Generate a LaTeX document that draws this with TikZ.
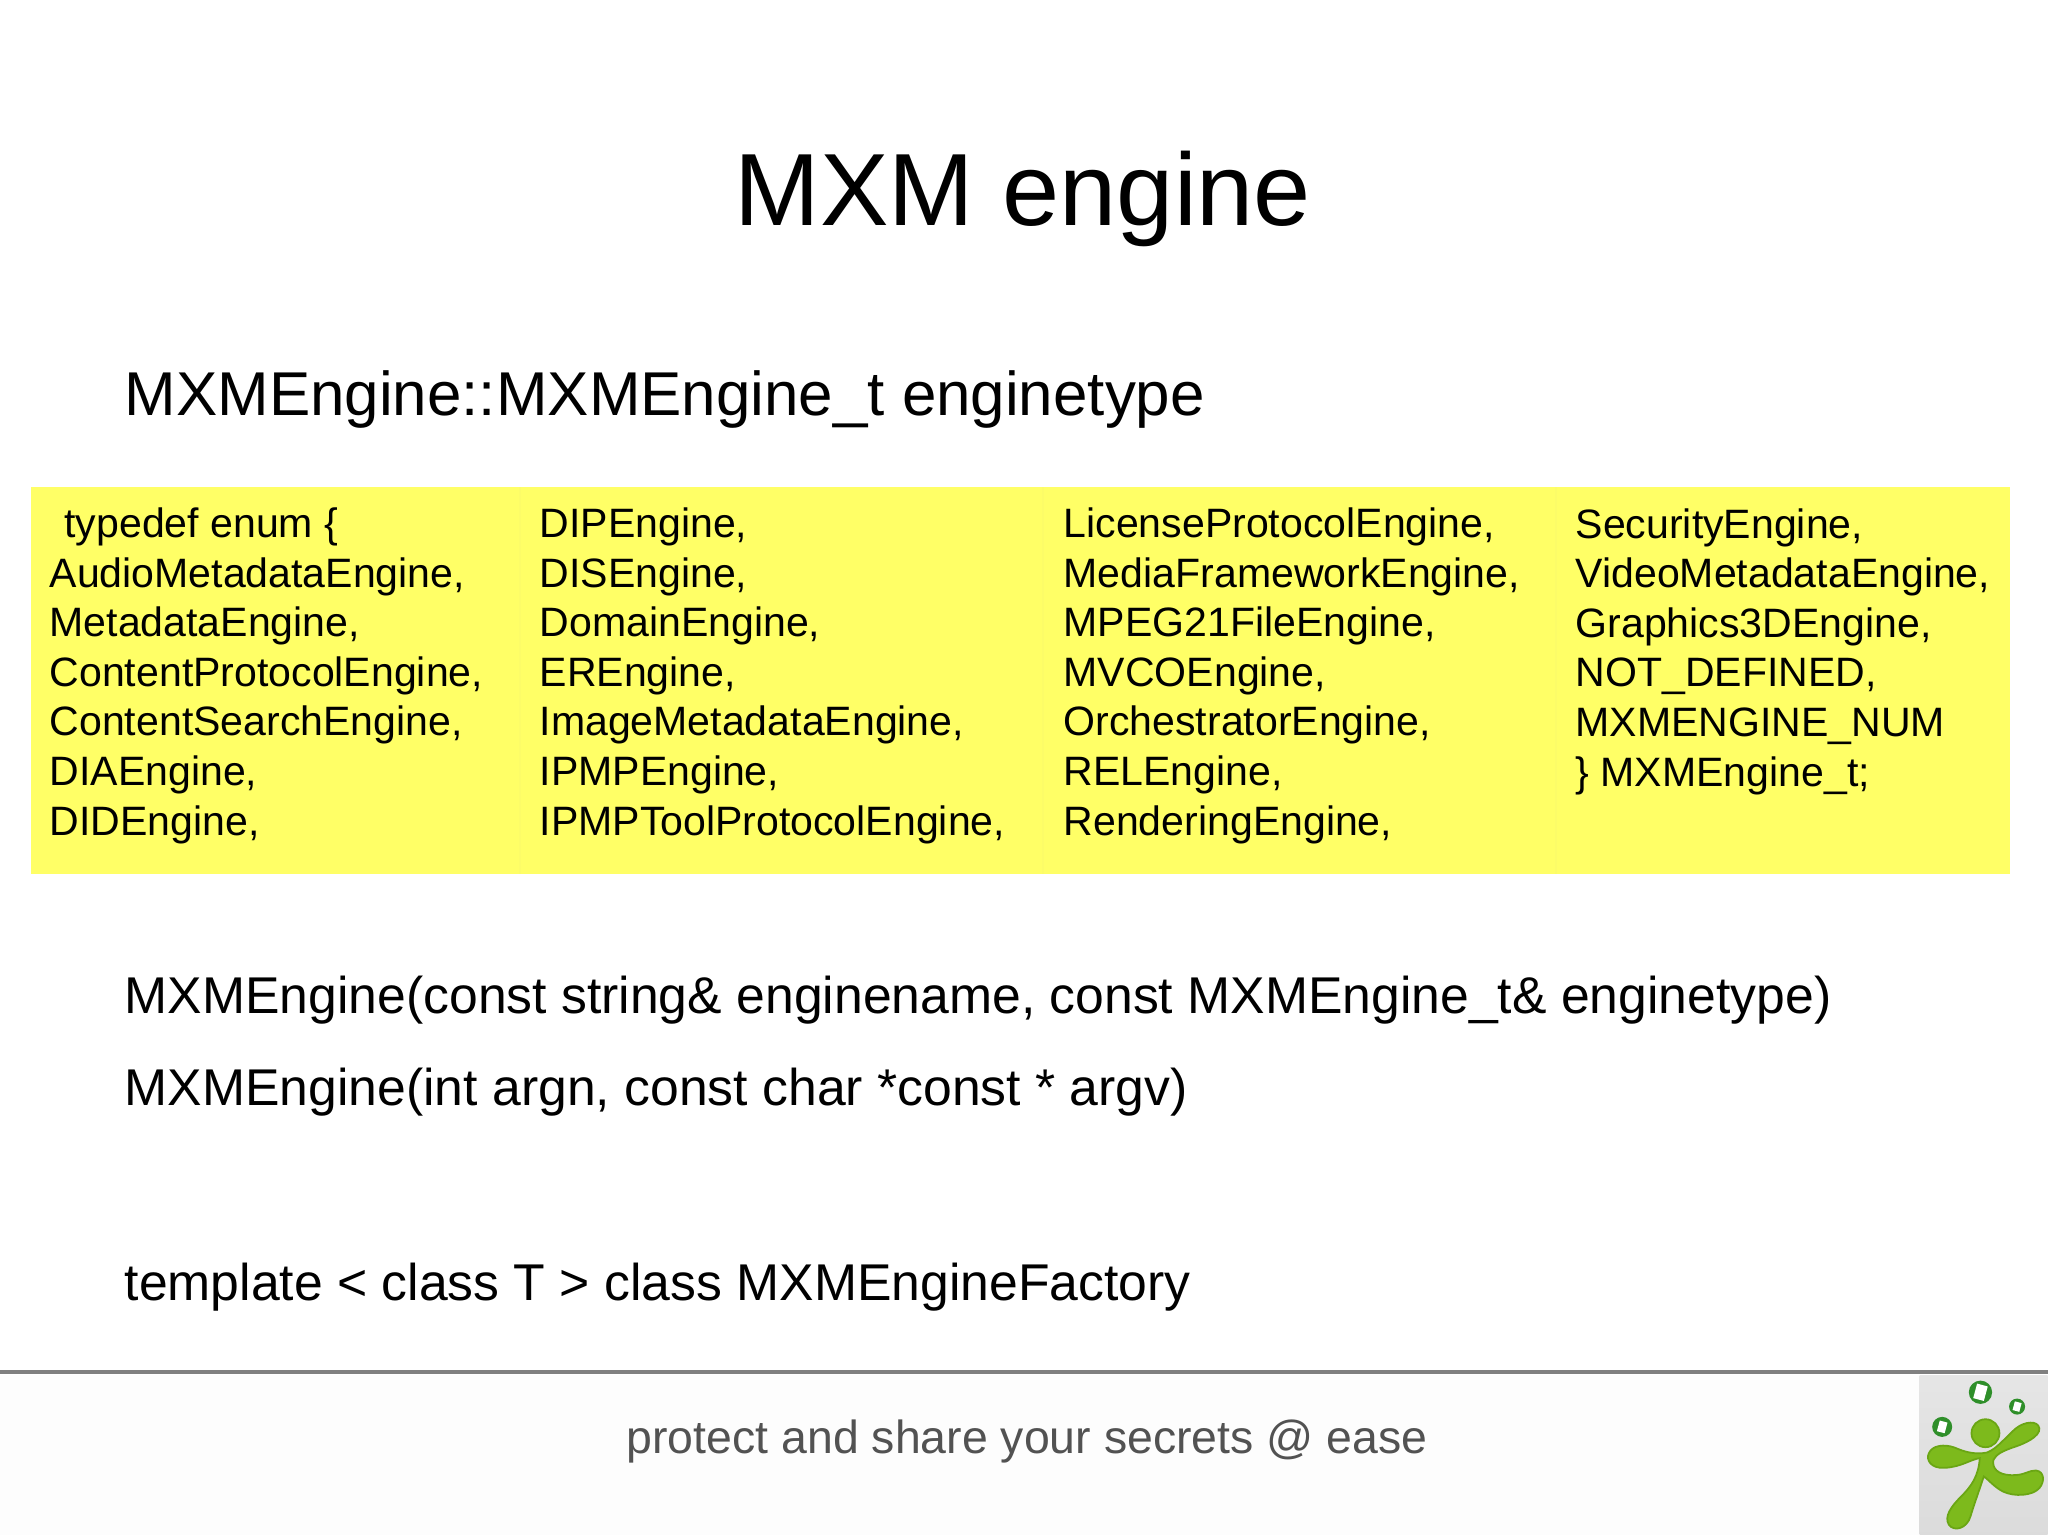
\documentclass[tikz,border=0pt]{standalone}
\usepackage{fontspec}
\setmainfont{Liberation Sans}
\definecolor{slideyellow}{HTML}{FFFF66}
\definecolor{slideseam}{HTML}{FCFC68}
\definecolor{sliderule}{HTML}{808080}
\definecolor{footgrey}{HTML}{525252}
\definecolor{logogreen}{HTML}{7DBA1C}
\definecolor{logoedge}{HTML}{6AA614}
\definecolor{logodark}{HTML}{2F8F2A}
\tikzset{
  titletext/.style={inner sep=0pt,anchor=base,font=\fontsize{29.2}{35}\selectfont},
  headtext/.style={inner sep=0pt,anchor=base west,font=\fontsize{17.6}{21}\selectfont},
  bodytext/.style={inner sep=0pt,anchor=base west,font=\fontsize{14.7}{18}\selectfont},
  cellblock/.style={inner sep=0pt,anchor=base west,align=left,font=\fontsize{11.67}{14.08}\selectfont},
  foottext/.style={inner sep=0pt,anchor=base,text=footgrey,font=\fontsize{13.2}{16}\selectfont},
  logoball/.style={circle,fill=logodark,inner sep=0pt},
  logodoc/.style={rectangle,fill=white,inner sep=0pt,rotate=-15}
}
\begin{document}
\begin{tikzpicture}[x=0.01cm,y=-0.01cm]
      \useasboundingbox (0,0) rectangle (2048,1535);
      \fill[white] (0,0) rectangle (2048,1535);
      \fill[black!0.7] (0,1375) rectangle (1920,1535);
      % enum table
      \fill[slideyellow] (31,487) rectangle (2010,874);
      \draw[slideseam] (520,487) -- (520,874);
      \draw[slideseam] (1043,487) -- (1043,874);
      \draw[slideseam] (1556,487) -- (1556,874);
      \node[titletext] (title) at (1023,225) {MXM engine};
      \node[headtext] (enginetype) at (124,415) {MXMEngine::MXMEngine\_t enginetype};
      \node[cellblock] (col1) at (49,835) {\hspace{4.2pt}typedef enum \{\\AudioMetadataEngine,\\MetadataEngine,\\ContentProtocolEngine,\\ContentSearchEngine,\\DIAEngine,\\DIDEngine,};
      \node[cellblock] (col2) at (539,835) {DIPEngine,\\DISEngine,\\DomainEngine,\\EREngine,\\ImageMetadataEngine,\\IPMPEngine,\\IPMPToolProtocolEngine,};
      \node[cellblock] (col3) at (1063,835) {LicenseProtocolEngine,\\MediaFrameworkEngine,\\MPEG21FileEngine,\\MVCOEngine,\\OrchestratorEngine,\\RELEngine,\\RenderingEngine,};
      \node[cellblock] (col4) at (1575,786) {SecurityEngine,\\VideoMetadataEngine,\\Graphics3DEngine,\\NOT\_DEFINED,\\MXMENGINE\_NUM\\\} MXMEngine\_t;};
      \node[bodytext] (ctorname) at (124,1013) {MXMEngine(const string\& enginename, const MXMEngine\_t\& enginetype)};
      \node[bodytext] (ctorargs) at (124,1105) {MXMEngine(int argn, const char *const * argv)};
      \node[bodytext] (factory) at (124,1300) {template < class T > class MXMEngineFactory};
      \draw[sliderule,line width=1.2pt] (0,1372) -- (2048,1372);
      \node[foottext] (slogan) at (1027,1453) {protect and share your secrets @ ease};
      % logo
      \begin{scope}[shift={(1848,1340)},x=0.00333cm,y=-0.00333cm]
        \shade[top color=black!10,bottom color=black!14] (215,108) rectangle (600,585);
        \fill[logogreen,draw=logoedge,line width=0.5pt] (418,338)
          .. controls (450,325) and (475,290) .. (505,265)
          .. controls (530,245) and (570,240) .. (575,265)
          .. controls (578,290) and (530,312) .. (495,323)
          .. controls (470,332) and (445,342) .. (437,360)
          .. controls (432,385) and (450,405) .. (490,406)
          .. controls (530,408) and (545,390) .. (565,392)
          .. controls (590,395) and (592,425) .. (575,445)
          .. controls (555,468) and (500,472) .. (465,455)
          .. controls (440,442) and (420,418) .. (408,410)
          .. controls (395,450) and (380,490) .. (368,530)
          .. controls (358,565) and (320,578) .. (303,555)
          .. controls (288,530) and (310,500) .. (340,470)
          .. controls (370,440) and (392,410) .. (396,355)
          .. controls (370,358) and (340,382) .. (290,384)
          .. controls (250,387) and (233,360) .. (243,340)
          .. controls (253,316) and (290,312) .. (320,323)
          .. controls (350,336) and (380,345) .. (418,338) -- cycle;
        \fill[logogreen,draw=logoedge,line width=0.5pt] (413,280) circle (42);
        \node[logoball,minimum size=0.233cm] (ballone) at (398,157) {};
        \node[logoball,minimum size=0.16cm] (balltwo) at (508,200) {};
        \node[logoball,minimum size=0.2cm] (ballthree) at (283,261) {};
        \node[logodoc,minimum width=0.11cm,minimum height=0.15cm] (docone) at (ballone) {};
        \node[logodoc,minimum width=0.07cm,minimum height=0.09cm] (doctwo) at (balltwo) {};
        \node[logodoc,minimum width=0.08cm,minimum height=0.11cm] (docthree) at (ballthree) {};
      \end{scope}
    \end{tikzpicture}
\end{document}
